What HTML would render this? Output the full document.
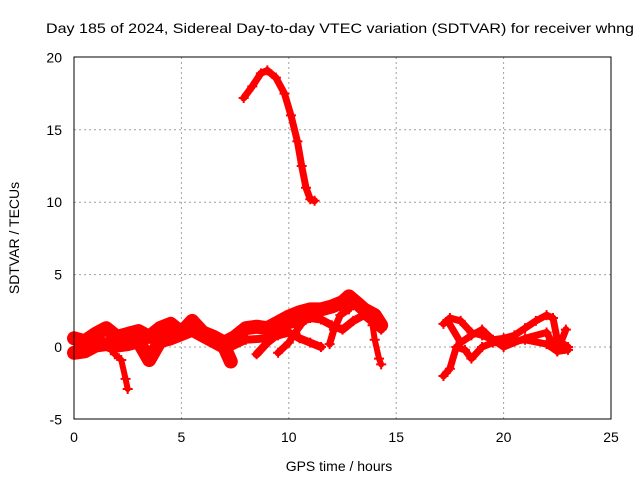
<!DOCTYPE html>
<html><head><meta charset="utf-8"><style>
body{margin:0;background:#fff}
svg{display:block;font-family:"Liberation Sans",sans-serif}
</style></head><body>
<svg id="chart" width="640" height="480">
<text x="46" y="33" font-size="14" textLength="588" lengthAdjust="spacingAndGlyphs">Day 185 of 2024, Sidereal Day-to-day VTEC variation (SDTVAR) for receiver whng</text>
<g id="grid"></g>
<g id="ticks"></g>
<g id="series"></g>
<rect x="74" y="57" width="537" height="362" fill="none" stroke="#000"/>
<text x="339" y="471" font-size="14" text-anchor="middle">GPS time / hours</text>
<text transform="translate(19,238) rotate(-90)" font-size="14" text-anchor="middle">SDTVAR / TECUs</text>
</svg>
<script>
const xTicks=[0,5,10,15,20,25];
const yTicks=[-5,0,5,10,15,20];
const trackPeak=[[7.9,17.2],[8.3,18.0],[8.7,18.9],[9.0,19.1],[9.4,18.6],[9.8,17.5],[10.1,16.0],[10.4,14.2],[10.6,12.5],[10.8,11.0],[11.0,10.2],[11.2,10.1]];
const trackUpper=[[0,0.6],[0.5,0.4],[1,0.9],[1.5,1.3],[2,0.7],[2.5,0.9],[3,1.1],[3.5,0.7],[4,1.3],[4.5,1.6],[5,1.0],[5.5,1.8],[6,1.0],[6.5,0.7],[7,0.3],[7.5,0.7],[8,1.3],[8.5,1.4],[9,1.3],[9.5,1.7],[10,2.1],[10.5,2.4],[11,2.6],[11.5,2.6],[12,2.8],[12.5,3.1],[12.8,3.5],[13.2,3.0],[13.5,2.6],[14,2.2],[14.3,1.5]];
const trackLower=[[0,-0.4],[0.5,-0.3],[1,0.1],[1.5,0.2],[2,0.1],[2.5,0.2],[3,0.4],[3.5,-0.9],[4,0.4],[4.5,0.6],[5,0.9],[5.5,1.2],[6,0.8],[7,0],[7.3,-1.0]];
const trackDip=[[1.6,0],[1.9,-0.5],[2.2,-0.9],[2.4,-2.2],[2.5,-2.9]];
const trackMidA=[[7.3,0],[8,0.5],[9,0.6],[9.5,0.8],[10,1.0],[10.5,0.6],[11,0.3],[11.5,0]];
const trackMidB=[[8.5,-0.5],[9,0.3],[9.5,0.9],[10,1.5],[10.5,1.7],[11,2.0],[11.5,1.9],[12,1.5],[12.5,1.2],[13,1.8],[13.5,2.2],[14,1.6],[14.3,1.2]];
const trackMidC=[[9.5,-0.4],[10,0.3],[10.3,1.0],[10.6,1.6],[11,2.3]];
const trackMidD=[[11.9,0.2],[12.1,1.2],[12.4,2.2],[12.8,2.6]];
const trackDrop=[[13.6,2.4],[13.9,1.5],[14.0,0.5],[14.2,-0.8],[14.3,-1.2]];
const trackRightA=[[17.2,1.6],[17.5,2.0],[18,1.8],[18.5,1.0],[19,0.8],[19.5,0.5],[20,0.6],[20.5,0.8],[21,1.3],[21.5,1.8],[22,2.2],[22.3,2.0],[22.5,0.5],[23,0]];
const trackRightB=[[17.2,-2],[17.5,-1.5],[17.8,0],[18.2,-0.2],[18.5,-0.8],[19,0],[19.5,0.3],[20.5,0.4],[21,0.5],[22,0.2],[22.5,-0.3],[22.9,1.2]];
const trackRightC=[[17.4,1.8],[18,0.3],[18.5,0.8],[19,1.2],[19.5,0.5],[20,0],[21,0.6],[22,1.0],[22.5,-0.3],[23,-0.2]];
const tracks=[trackPeak,trackUpper,trackLower,trackDip,trackMidA,trackMidB,trackMidC,trackMidD,trackDrop,trackRightA,trackRightB,trackRightC];
const widths=[7,14,14,6,8,8,7,7,6,7,7,7];
const NS="http://www.w3.org/2000/svg";
const X=h=>74+h*537/25;
const Y=v=>347-v*362/25;
function mk(t,p,a){const e=document.createElementNS(NS,t);for(const k in a)e.setAttribute(k,a[k]);p.appendChild(e);return e;}
const grid=document.getElementById('grid'),ticks=document.getElementById('ticks'),ser=document.getElementById('series');
xTicks.forEach(t=>{
  if(t>0&&t<25){const l=mk('line',grid,{x1:X(t),x2:X(t),y1:57,y2:419,stroke:'#a0a0a0','stroke-dasharray':'2,3'});
  
  }
  const tx=mk('text',ticks,{x:X(t),y:442,'font-size':14,'text-anchor':'middle'});tx.textContent=t;
  
  
});
yTicks.forEach(t=>{
  if(t>-5&&t<20){const l=mk('line',grid,{x1:74,x2:611,y1:Y(t),y2:Y(t),stroke:'#a0a0a0','stroke-dasharray':'2,3'});
  
  }
  const tx=mk('text',ticks,{x:62,y:Y(t)+5,'font-size':14,'text-anchor':'end'});tx.textContent=t;
  
  
});
tracks.forEach((tr,i)=>{
  const pl=mk('polyline',ser,{points:tr.map(p=>X(p[0])+','+Y(p[1])).join(' '),fill:'none',stroke:'#ff0000','stroke-width':widths[i],'stroke-linejoin':'round','stroke-linecap':'round'});
  
  
  tr.forEach(p=>{
    const x=X(p[0]),y=Y(p[1]);
    const m=mk('path',ser,{d:`M${x-5},${y}h10M${x},${y-5}v10`,stroke:'#ff0000','stroke-width':2});
    
    
  });
});
</script>
</body></html>
